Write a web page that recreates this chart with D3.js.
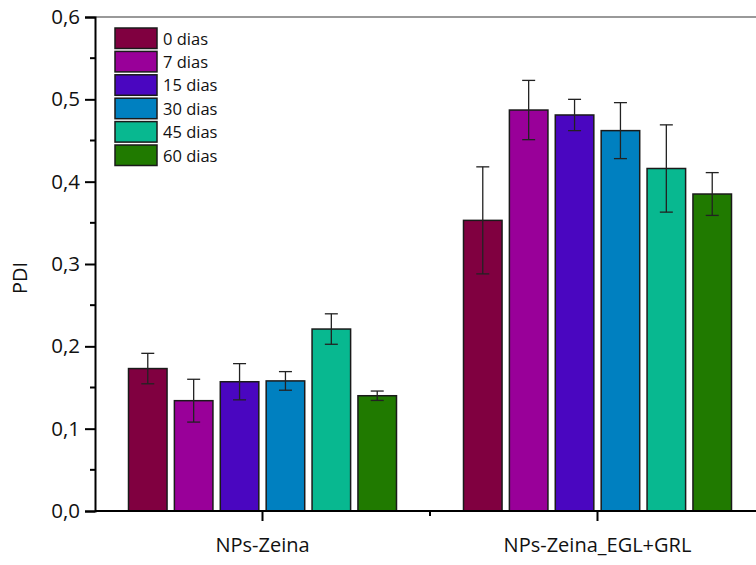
<!DOCTYPE html>
<html><head><meta charset="utf-8">
<script src="https://cdn.jsdelivr.net/npm/d3@7/dist/d3.min.js"></script>
<style>body{margin:0;background:#fff}svg{display:block}text{font-family:"Open Sans",Lato,sans-serif;fill:#111}</style>
</head><body>
<script>
const groups = ["NPs-Zeina", "NPs-Zeina_EGL+GRL"];
const series = ["0 dias", "7 dias", "15 dias", "30 dias", "45 dias", "60 dias"];
const colors = ["#800040", "#990099", "#4a06c0", "#0080c0", "#08b890", "#207a00"];
const valuesZeina = [0.173, 0.134, 0.157, 0.158, 0.221, 0.140];
const errorsZeina = [0.0185, 0.026, 0.022, 0.0113, 0.0185, 0.0057];
const valuesEGL = [0.353, 0.487, 0.481, 0.462, 0.416, 0.385];
const errorsEGL = [0.065, 0.036, 0.019, 0.034, 0.053, 0.026];
const yTicks = [0, 0.1, 0.2, 0.3, 0.4, 0.5, 0.6];
const yTickLabels = ["0,0", "0,1", "0,2", "0,3", "0,4", "0,5", "0,6"];
const yLabel = "PDI";

const W = 756, H = 565;
const svg = d3.select("body").append("svg").attr("width", W).attr("height", H);
const x0 = 95, x1 = 765, yTop = 17, yBot = 511;

const y = d3.scaleLinear().domain([0, 0.6]).range([yBot, yTop]);
const xg = d3.scaleBand().domain(groups).range([x0, x1]).padding(0);
const groupWidth = 268;
const xs = d3.scaleBand().domain(series).range([-groupWidth/2, groupWidth/2]).paddingInner(0.16).paddingOuter(0);

const data = [
  {g: groups[0], vals: valuesZeina, errs: errorsZeina},
  {g: groups[1], vals: valuesEGL, errs: errorsEGL}
];

// top frame line
svg.append("line").attr("x1", x0).attr("x2", W).attr("y1", yTop).attr("y2", yTop)
  .attr("stroke", "#777").attr("stroke-width", 1.5);

// bars
data.forEach(d => {
  const cx = xg(d.g) + xg.bandwidth()/2;
  const gg = svg.append("g").attr("transform", `translate(${cx},0)`);
  series.forEach((s, i) => {
    gg.append("rect")
      .attr("x", xs(s)).attr("width", xs.bandwidth())
      .attr("y", y(d.vals[i])).attr("height", y(0) - y(d.vals[i]))
      .attr("fill", colors[i]).attr("stroke", "#1a1a1a").attr("stroke-width", 1.5);
  });
  series.forEach((s, i) => {
    const ex = xs(s) + xs.bandwidth()/2;
    const hi = y(d.vals[i] + d.errs[i]), lo = y(d.vals[i] - d.errs[i]);
    const eg = gg.append("g").attr("stroke", "#222").attr("stroke-width", 1.3);
    eg.append("line").attr("x1", ex).attr("x2", ex).attr("y1", hi).attr("y2", lo);
    eg.append("line").attr("x1", ex - 6.5).attr("x2", ex + 6.5).attr("y1", hi).attr("y2", hi);
    eg.append("line").attr("x1", ex - 6.5).attr("x2", ex + 6.5).attr("y1", lo).attr("y2", lo);
  });
});

// y axis
const yAxis = d3.axisLeft(y).tickValues(yTicks).tickFormat((d, i) => yTickLabels[i]).tickSize(10).tickPadding(5);
const ya = svg.append("g").attr("transform", `translate(${x0},0)`).call(yAxis);
ya.select(".domain").attr("stroke", "#000").attr("stroke-width", 2);
ya.selectAll(".tick line").attr("stroke", "#000").attr("stroke-width", 2);
ya.selectAll(".tick text").style("font-size", "20.5px").attr("fill", "#111");
const minorY = d3.range(0.05, 0.6, 0.1);
svg.append("g").selectAll("line").data(minorY).join("line")
  .attr("x1", x0 - 5).attr("x2", x0).attr("y1", d => y(d)).attr("y2", d => y(d))
  .attr("stroke", "#000").attr("stroke-width", 2);

// x axis
const xAxis = d3.axisBottom(xg).tickSize(10).tickPadding(17);
const xa = svg.append("g").attr("transform", `translate(0,${yBot})`).call(xAxis);
xa.select(".domain").attr("stroke", "#000").attr("stroke-width", 2).attr("d", `M${x0},0H${x1}`);
xa.selectAll(".tick line").attr("stroke", "#000").attr("stroke-width", 2);
xa.selectAll(".tick text").style("font-size", "20px").attr("fill", "#111");
svg.append("line").attr("x1", xg(groups[1])).attr("x2", xg(groups[1]))
  .attr("y1", yBot).attr("y2", yBot + 5).attr("stroke", "#000").attr("stroke-width", 2);

// y label
svg.append("text").attr("transform", `translate(27,${(yTop + yBot)/2 + 14}) rotate(-90)`)
  .attr("text-anchor", "middle").style("font-size", "20px").text(yLabel);

// legend
const lg = svg.append("g").attr("transform", "translate(115,28)");
series.forEach((s, i) => {
  const row = lg.append("g").attr("transform", `translate(0,${i * 23.4})`);
  row.append("rect").attr("width", 42).attr("height", 20.5)
    .attr("fill", colors[i]).attr("stroke", "#1a1a1a").attr("stroke-width", 1.5);
  row.append("text").attr("x", 48).attr("y", 16.5).style("font-size", "16.5px").text(s);
});
</script>
</body></html>
